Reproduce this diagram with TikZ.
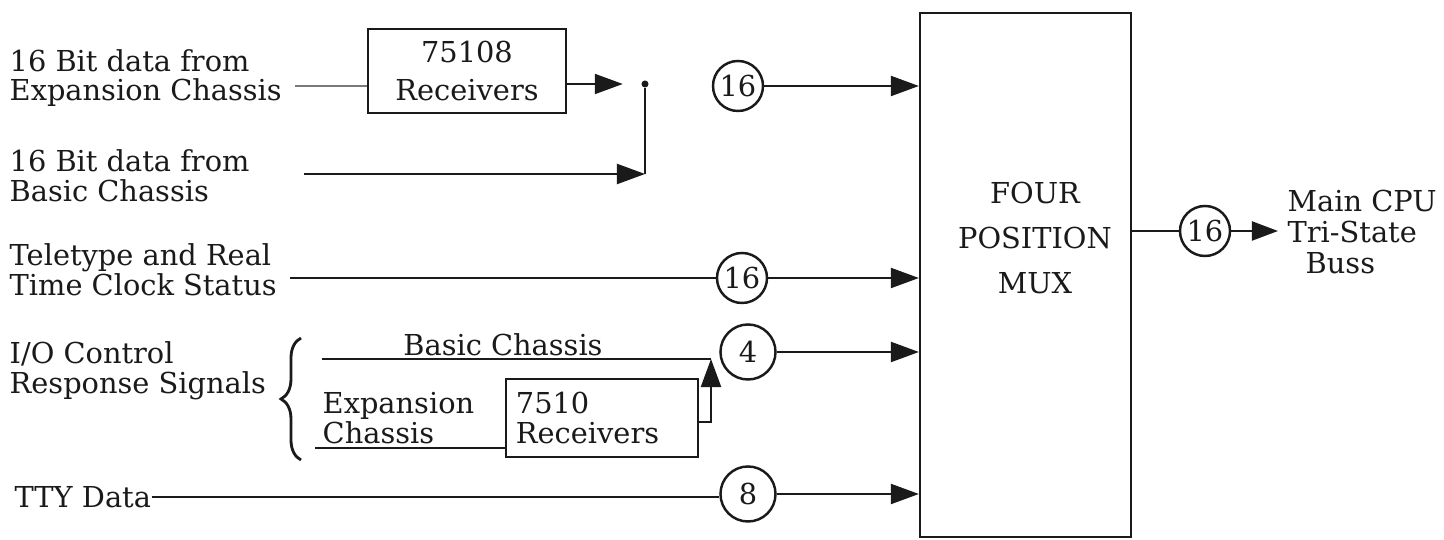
\documentclass[tikz,border=0pt]{standalone}
\usepackage{fontspec}
\setmainfont{DejaVu Serif}
\usepackage{tikz}
\usetikzlibrary{shapes,arrows.meta,positioning,calc,decorations.pathreplacing}
\definecolor{ink}{HTML}{1A1A1A}
\definecolor{paper}{HTML}{FFFFFF}
\definecolor{faintink}{HTML}{7A7A7A}
\newcommand{\diagfont}{\fontsize{8.2}{8.5}\selectfont}

\tikzset{
  lbl/.style={anchor=west, align=left, inner sep=0pt, text=ink, font=\diagfont},
  rxbox/.style={draw=ink, line width=0.5pt, font=\diagfont, text=ink},
  numring/.style={circle, draw=ink, line width=0.7pt, inner sep=0pt, minimum size=0.5cm, font=\diagfont, text=ink},
  wire/.style={draw=ink, line width=0.6pt},
  arr/.style={wire, -{Triangle[length=0.28cm,width=0.2cm]}},
  arrsm/.style={wire, -{Triangle[length=0.26cm,width=0.19cm]}}
}

\begin{document}
\begin{tikzpicture}[x=0.01cm, y=-0.01cm]
% Four position MUX inputs
\fill[paper] (0,0) rectangle (1444,540);
\node[lbl] (expsrc) at (9,78) {16 Bit data from\\Expansion Chassis};
\node[lbl] (bassrc) at (9,176) {16 Bit data from\\Basic Chassis};
\node[lbl] (ttysrc) at (9,270) {Teletype and Real\\Time Clock Status};
\node[lbl] (iosrc) at (9,371) {I/O Control\\Response Signals};
\node[lbl] (ttydata) at (14,497) {TTY Data};

\node[rxbox, font=\fontsize{8.2}{11}\selectfont, minimum width=1.98cm, minimum height=0.82cm, align=center] (rx108) at (467,71) {75108\\Receivers};
\node[draw=ink, line width=0.6pt, minimum width=2.11cm, minimum height=5.23cm] (mux) at (1025.5,275) {};
\node[font=\fontsize{8.2}{12.8}\selectfont, align=center, text=ink] (muxtxt) at (1035,238) {FOUR\\POSITION\\MUX};

% 16 bit data, expansion and basic
\coordinate (expin) at (295,86);
\coordinate (basin) at (304,174);
\coordinate (jlow) at (645,174);
\node[circle, fill=ink, inner sep=0pt, minimum size=0.07cm] (jdot) at (645,84) {};
\draw[wire, faintink] (expin) -- (expin -| rx108.west);
\draw[arr, shorten >=0.18cm] (rx108.east |- jdot) -- (jdot);
\draw[wire] (jdot) -- (jlow);
\draw[arr] (basin) -- (jlow);
\node[numring] (n16a) at (738,86) {16};
\draw[arr] (n16a) -- (n16a -| mux.west);

% teletype and clock status
\coordinate (ttyin) at (290,278);
\node[numring] (n16b) at (742,278) {16};
\draw[wire] (ttyin) -- (n16b);
\draw[arr] (n16b) -- (n16b -| mux.west);

% I/O control response signals
\draw[wire, line width=0.8pt, decorate, decoration={brace, amplitude=0.2cm}] (301,460) -- (301,338);
\coordinate (bcin) at (322,359);
\coordinate (bcend) at (711,359);
\draw[wire] (bcin) -- (bcend);
\node[font=\diagfont, anchor=base, inner sep=0pt, text=ink] (bclbl) at (503,356) {Basic Chassis};
\node[lbl] (expch) at (322,418) {Expansion\\Chassis};
\node[rxbox, text width=1.72cm, minimum height=0.78cm, align=left, inner sep=0.1cm] (rx10) at (602,418) {7510\\Receivers};
\coordinate (ecin) at (315,448);
\draw[wire] (ecin) -- (ecin -| rx10.west);
\coordinate (rxout) at (711,422);
\draw[arr] (rx10.east |- rxout) -- (rxout) -- (bcend);
\node[numring, minimum size=0.55cm] (n4) at (748,352) {4};
\draw[arr] (n4) -- (n4 -| mux.west);

% TTY data
\node[numring, minimum size=0.55cm] (n8) at (748,494) {8};
\draw[wire] (ttydata) -- (ttydata -| n8.west);
\draw[arr] (n8) -- (n8 -| mux.west);

% output to the CPU
\node[numring] (n16c) at (1205,231) {16};
\node[lbl, font=\fontsize{8.2}{8.7}\selectfont] (cpu) at (1287,232) {Main CPU\\Tri-State\\\hspace*{0.18cm}Buss};
\draw[wire] (mux.east |- n16c) -- (n16c);
\draw[arrsm, shorten >=0.09cm] (n16c) -- (n16c -| cpu.west);
\end{tikzpicture}
\end{document}
